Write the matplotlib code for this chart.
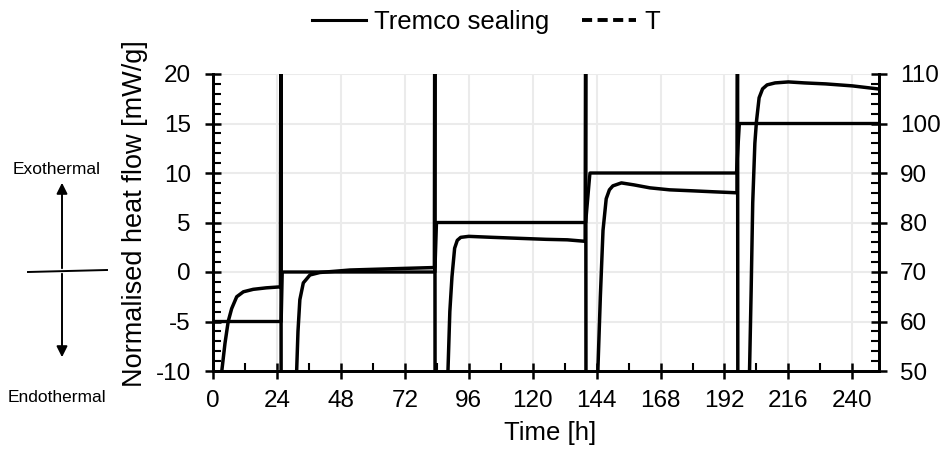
import matplotlib
matplotlib.use("Agg")
import matplotlib.pyplot as plt
from matplotlib.lines import Line2D
from matplotlib.patches import FancyArrowPatch
from matplotlib.ticker import MultipleLocator

plt.rcParams['font.family'] = ['Liberation Sans', 'DejaVu Sans']
plt.rcParams['axes.unicode_minus'] = False

# Heat flow of the sample (mW/g) versus time (h); the spikes at each
# temperature step run off the axis in both directions
time_h = [
    0.0, 1.5, 3.3, 4.5, 5.7, 7.0, 8.9, 11.4, 15.1, 20.0, 25.3,
    25.5, 25.6, 30.6, 31.4, 31.9, 32.6, 33.9, 36.4, 40.1, 51.4, 70.0, 83.1,
    83.25, 83.4, 87.4, 88.2, 88.9, 89.7, 90.7, 91.7, 93.0, 96.0, 105.0, 115.0, 125.0, 133.0, 139.7,
    139.9, 140.05, 143.8, 144.5, 145.4, 146.4, 147.6, 148.8, 150.1, 153.3, 158.0, 164.0, 171.4, 180.0, 188.0, 196.7,
    196.9, 197.05, 200.7, 201.4, 202.0, 202.6, 203.4, 204.0, 205.0, 206.3, 208.0, 211.0, 216.0, 222.0, 230.0, 240.0, 249.4,
]
heat_flow = [
    -30, -20, -10, -7.2, -5.0, -3.7, -2.5, -2.0, -1.75, -1.6, -1.5,
    30, -30, -30, -10, -6.0, -2.8, -1.1, -0.3, -0.05, 0.2, 0.35, 0.45,
    30, -30, -30, -10, -4.0, -0.5, 2.4, 3.2, 3.5, 3.6, 3.5, 3.4, 3.3, 3.25, 3.1,
    30, -30, -30, -9.7, -2.5, 4.2, 7.4, 8.3, 8.7, 9.0, 8.8, 8.5, 8.3, 8.2, 8.1, 8.0,
    30, -30, -30, -10, -2.0, 7.0, 13.0, 15.2, 17.6, 18.5, 18.9, 19.1, 19.2, 19.1, 19.0, 18.8, 18.5,
]

# Furnace temperature programme (°C)
temp_time_h = [0.0, 25.6, 26.0, 83.3, 83.9, 139.9, 141.5, 196.5, 197.6, 250.0]
temp_c = [60, 60, 70, 70, 80, 80, 90, 90, 100, 100]

x_ticks = [0, 24, 48, 72, 96, 120, 144, 168, 192, 216, 240]

fig = plt.figure(figsize=(9.45, 4.5), dpi=100)
ax = fig.add_axes([213 / 945, 1 - 371 / 450, (879 - 213) / 945, (371 - 74) / 450])
ax2 = ax.twinx()

ax.plot(time_h, heat_flow, color='black', lw=2.5, solid_joinstyle='round', zorder=3)
ax2.plot(temp_time_h, temp_c, color='black', lw=2.4, zorder=3)

ax.set_xlim(0, 250)
ax.set_ylim(-10, 20)
ax2.set_ylim(50, 110)
ax.set_xticks(x_ticks)
ax.xaxis.set_minor_locator(MultipleLocator(12))
ax.yaxis.set_major_locator(MultipleLocator(5))
ax.yaxis.set_minor_locator(MultipleLocator(1))
ax2.yaxis.set_major_locator(MultipleLocator(10))
ax2.yaxis.set_minor_locator(MultipleLocator(2))

ax.grid(True, which='major', color='#ebebeb', lw=1.5, zorder=0)
ax.set_axisbelow(True)

for a in (ax, ax2):
    a.spines['top'].set_visible(False)
    for s in a.spines.values():
        s.set_linewidth(2.0)
    a.patch.set_visible(False)

ax.tick_params(axis='x', which='major', direction='inout', length=12, width=1.8,
               labelsize=17.5, pad=8)
ax.tick_params(axis='y', which='major', direction='inout', length=12, width=1.8,
               labelsize=17.5, pad=10)
ax.tick_params(axis='both', which='minor', direction='in', length=6, width=1.5)
ax2.tick_params(axis='y', which='major', direction='inout', length=12, width=1.8,
                labelsize=17.5, pad=9)
ax2.tick_params(axis='y', which='minor', direction='in', length=6, width=1.5)

fig.text(135 / 945, 1 - 214 / 450, 'Normalised heat flow [mW/g]', rotation=90,
         ha='center', va='center', fontsize=19.5)
fig.text(550 / 945, 1 - 433 / 450, 'Time [h]', ha='center', va='center', fontsize=18.5)

handles = [Line2D([], [], color='black', lw=2.2),
           Line2D([], [], color='black', lw=2.8, dashes=(2.6, 1.4))]
fig.legend(handles, ['Tremco sealing', 'T'], loc='center', ncol=2,
           bbox_to_anchor=(486 / 945, 1 - 22 / 450), frameon=False, fontsize=18.5,
           handlelength=2.1, handletextpad=0.3, columnspacing=1.3)

# Exothermal / endothermal indicator
fig.text(57 / 945, 1 - 170 / 450, 'Exothermal', ha='center', va='center', fontsize=12.5)
fig.text(57 / 945, 1 - 397 / 450, 'Endothermal', ha='center', va='center', fontsize=12.5)
for y_end in (180, 360):
    fig.add_artist(FancyArrowPatch((62 / 945, 1 - 271 / 450), (62 / 945, 1 - y_end / 450),
                                   transform=fig.transFigure, arrowstyle='-|>',
                                   mutation_scale=16, lw=1.4, color='black'))
fig.add_artist(Line2D([28 / 945, 107 / 945], [1 - 272 / 450, 1 - 270 / 450],
                      transform=fig.transFigure, color='black', lw=1.4))

fig.savefig('out.png', dpi=100)
